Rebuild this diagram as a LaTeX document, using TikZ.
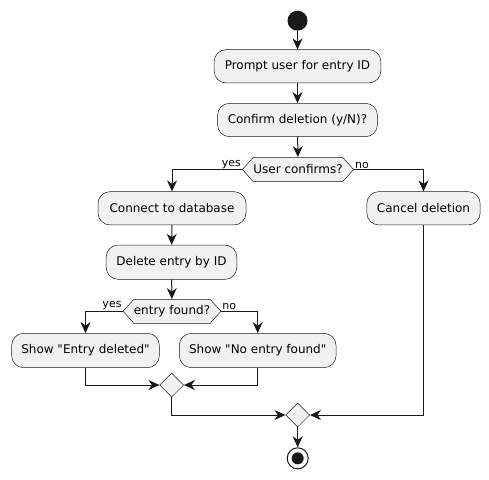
\documentclass[tikz,border=0pt]{standalone}
\usepackage{fontspec}
\setmainfont{DejaVu Sans}
\usetikzlibrary{arrows.meta,shapes.geometric,shapes.symbols}
\definecolor{ln}{HTML}{181818}
\definecolor{bg}{HTML}{F1F1F1}
\tikzset{
  act/.style={draw=ln, fill=bg, line width=0.5pt, rounded corners=12pt, inner sep=0pt, minimum height=33.3pt, font=\fontsize{12}{14}\selectfont},
  hexa/.style={draw=ln, fill=bg, line width=0.5pt, shape=signal, signal to=east and west, signal pointer angle=96, inner sep=0pt, minimum height=24.4pt, font=\fontsize{12}{14}\selectfont},
  merge/.style={draw=ln, fill=bg, line width=0.5pt, shape=diamond, inner sep=0pt, minimum size=24pt},
  flow/.style={draw=ln, line width=1pt, -{Stealth[length=11pt,width=10pt,inset=3.5pt]}},
  lbl/.style={font=\fontsize{11}{13}\selectfont, inner sep=1pt}
}
\begin{document}
\begin{tikzpicture}[x=1pt,y=-1pt]
\useasboundingbox (0,0) rectangle (489,479);
\node[circle, fill=ln, minimum size=20pt, inner sep=0pt] (start) at (297.5,20.7) {};
\node[act, minimum width=166.7pt] (prompt) at (297.5,66.3) {Prompt user for entry ID};
\node[act, minimum width=160pt] (confirm) at (297.5,120) {Confirm deletion (y/N)?};
\node[hexa, minimum width=106pt] (d1) at (298,169.5) {User confirms?};
\node[act, minimum width=148pt] (connect) at (172,208.3) {Connect to database};
\node[act, minimum width=113.3pt] (cancel) at (423.5,208.3) {Cancel deletion};
\node[act, minimum width=130.7pt, minimum height=34.3pt] (delete) at (171.5,262.2) {Delete entry by ID};
\node[hexa, minimum width=94pt, minimum height=24pt] (d2) at (172,311.3) {entry found?};
\node[act, minimum width=147.7pt, minimum height=34.3pt] (ed) at (85.5,350.5) {Show \textquotedbl Entry deleted\textquotedbl};
\node[act, minimum width=156.7pt, minimum height=34.3pt] (ne) at (257.7,350.5) {Show \textquotedbl No entry found\textquotedbl};
\node[merge] (m1) at (171.7,385) {};
\node[merge] (m2) at (297.7,415) {};
\node[circle, draw=ln, line width=1pt, fill=white, minimum size=21pt, inner sep=0pt,
  path picture={\fill[ln] (path picture bounding box.center) circle (6pt);}] (end) at (297.7,458.3) {};

\draw[flow] (start) -- (prompt);
\draw[flow] (prompt) -- (confirm);
\draw[flow] (confirm) -- (d1);
\draw[flow] (d1.west) -| (connect.north);
\draw[flow] (d1.east) -| (cancel.north);
\node[lbl, anchor=south east] (yes1) at (d1.west) {yes};
\node[lbl, anchor=south west] (no1) at (d1.east) {no};
\draw[flow] (connect) -- (delete);
\draw[flow] (delete) -- (d2);
\draw[flow] (d2.west) -| (ed.north);
\draw[flow] (d2.east) -| (ne.north);
\node[lbl, anchor=south east] (yes2) at (d2.west) {yes};
\node[lbl, anchor=south west] (no2) at (d2.east) {no};
\draw[flow] (ed.south) |- (m1.west);
\draw[flow] (ne.south) |- (m1.east);
\draw[flow] (m1.south) |- (m2.west);
\draw[flow] (cancel.south) |- (m2.east);
\draw[flow] (m2) -- (end);
\end{tikzpicture}
\end{document}
